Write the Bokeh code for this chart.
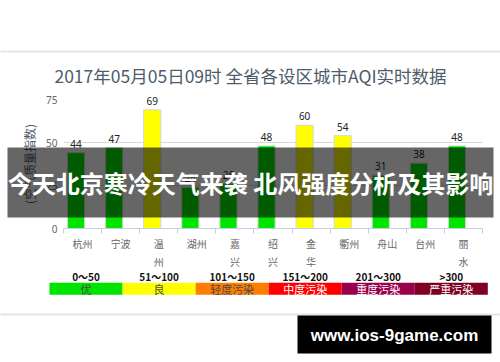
from bokeh.plotting import figure
from bokeh.models import ColumnDataSource, Range1d, FixedTicker
from bokeh.core.properties import value
from bokeh.embed import file_html
from bokeh.resources import INLINE

# ---------------- data ----------------
CITIES = ["杭州", "宁波", "温州", "湖州", "嘉兴", "绍兴", "金华", "衢州", "舟山", "台州", "丽水"]
AQI = [44, 47, 69, 24, 26, 48, 60, 54, 31, 38, 48]
TICK_LABELS = ["杭州", "宁波", "温\n州", "湖州", "嘉\n兴", "绍\n兴", "金\n华", "衢州", "舟山", "台州", "丽\n水"]
Y_TICKS = [0, 25, 50, 75]

LEVEL_RANGES = ["0～50", "51～100", "101～150", "151～200", "201～300", ">300"]
LEVEL_NAMES = ["优", "良", "轻度污染", "中度污染", "重度污染", "严重污染"]
LEVEL_UPPER = [50, 100, 150, 200, 300, 500]
LEVEL_COLORS = ["#00e400", "#ffff00", "#ff7e00", "#ff0000", "#99004c", "#7e0023"]
LEVEL_TEXT_COLORS = ["#4a4a4a", "#4a4a4a", "#4a4a4a", "#ffffff", "#ffffff", "#ffffff"]

TITLE = "2017年05月05日09时 全省各设区城市AQI实时数据"
Y_TITLE = "(空气质量指数)"
BANNER = "今天北京寒冷天气来袭 北风强度分析及其影响"
WATERMARK = "www.ios-9game.com"

# ---------------- geometry (page pixels) ----------------
W, H = 500, 362
FX0, FX1 = 63, 482      # plot frame left/right
FY0, FY1 = 99, 228      # plot frame top/bottom
LX0, LX1 = 49, 487.3    # legend strip left/right
CJK = "Noto Sans CJK SC"

n = len(CITIES)
m = len(LEVEL_NAMES)
seg = (LX1 - LX0) / m

bar_colors = [next(c for u, c in zip(LEVEL_UPPER, LEVEL_COLORS) if v <= u) for v in AQI]
src = ColumnDataSource(dict(
    x=[i + 0.5 - 0.17 for i in range(n)],
    aqi=AQI,
    color=bar_colors,
    lbl=[str(v) for v in AQI],
))

p = figure(width=W, height=H, output_backend="svg", toolbar_location=None,
           x_range=Range1d(0, n), y_range=Range1d(Y_TICKS[0], Y_TICKS[-1]),
           min_border_left=FX0, min_border_right=W - FX1,
           min_border_top=FY0, min_border_bottom=H - FY1)
p.outline_line_color = None
p.extra_x_ranges = {"px": Range1d(FX0, FX1),
                    "leg": Range1d((FX0 - LX0) / seg, (FX1 - LX0) / seg)}
p.extra_y_ranges = {"py": Range1d(FY1, FY0)}

p.vbar(x="x", top="aqi", bottom=0, width=0.45, fill_color="color",
       line_color="#d6d6d6", line_width=1, source=src)

# value labels (overlay level so the top one is not clipped by the frame)
p.text(x="x", y="aqi", text="lbl", source=src, y_offset=-5,
       text_align="center", text_baseline="bottom",
       text_font=value("Noto Sans"), text_font_size="10px",
       text_color="#222222", level="overlay")

# axes
p.xgrid.visible = False
p.ygrid.grid_line_color = "#d8d8d8"
p.ygrid.ticker = FixedTicker(ticks=Y_TICKS)

xa = p.xaxis[0]
xa.ticker = FixedTicker(ticks=[i + 0.5 for i in range(n)], minor_ticks=list(range(n + 1)))
xa.major_label_overrides = {i + 0.5: TICK_LABELS[i] for i in range(n)}
xa.major_tick_out = 0
xa.major_tick_in = 0
xa.minor_tick_out = 5
xa.minor_tick_in = 0
xa.minor_tick_line_color = "#c0d0e0"
xa.axis_line_color = "#c0d0e0"
xa.major_label_standoff = 2
xa.major_label_text_font = CJK
xa.major_label_text_font_size = "10px"
xa.major_label_text_color = "#666666"

ya = p.yaxis[0]
ya.ticker = FixedTicker(ticks=Y_TICKS)
ya.axis_line_color = None
ya.major_tick_line_color = None
ya.minor_tick_line_color = None
ya.major_tick_out = 0
ya.major_tick_in = 0
ya.major_label_standoff = 6
ya.major_label_text_font = "Noto Sans"
ya.major_label_text_font_size = "10px"
ya.major_label_text_color = "#666666"
ya.axis_label = Y_TITLE
ya.axis_label_text_font = CJK
ya.axis_label_text_font_style = "normal"
ya.axis_label_text_font_size = "12px"
ya.axis_label_text_color = "#4d5b6b"
ya.axis_label_standoff = 5

# title and top rule (overlay-level glyphs are not clipped to the frame)
p.quad(left=[0], right=[W], top=[50], bottom=[52], x_range_name="px", y_range_name="py",
       fill_color="#e4e8e8", line_color=None, level="overlay")
p.text(x=[250], y=[75], text=[TITLE], x_range_name="px", y_range_name="py",
       text_align="center", text_baseline="middle", text_font=value(CJK),
       text_font_size="17.5px", text_color="#4d5b6b", level="overlay")

# banner overlay
p.quad(left=[7], right=[493], top=[147], bottom=[217], x_range_name="px", y_range_name="py",
       fill_color="black", fill_alpha=0.6, line_color=None, level="overlay")
p.text(x=[250], y=[182], text=[BANNER], x_range_name="px", y_range_name="py",
       text_align="center", text_baseline="middle", text_font=value(CJK),
       text_font_style="bold", text_font_size="24px", text_color="white", level="overlay")

# ---------------- legend strip ----------------
lsrc = ColumnDataSource(dict(x=[i + 0.5 for i in range(m)], color=LEVEL_COLORS,
                             name=LEVEL_NAMES, rng=LEVEL_RANGES, tc=LEVEL_TEXT_COLORS))
p.rect(x="x", y=288.3, width=1, height=12, fill_color="color", line_color=None, source=lsrc,
       x_range_name="leg", y_range_name="py", level="overlay")
p.text(x="x", y=275.5, text="rng", source=lsrc, text_align="center", text_baseline="middle",
       text_font=value(CJK), text_font_style="bold", text_font_size="10px", text_color="#111111",
       x_range_name="leg", y_range_name="py", level="overlay")
p.text(x="x", y=288.5, text="name", source=lsrc, text_align="center", text_baseline="middle",
       text_font=value(CJK), text_font_size="11px", text_color="tc",
       x_range_name="leg", y_range_name="py", level="overlay")

# ---------------- bottom rule + watermark ----------------
p.quad(left=[0], right=[W], top=[313], bottom=[315], x_range_name="px", y_range_name="py",
       fill_color="#e2e6e6", line_color=None, level="overlay")
p.quad(left=[297], right=[491], top=[315], bottom=[353], x_range_name="px", y_range_name="py",
       fill_color="black", line_color=None, level="overlay")
p.text(x=[394], y=[335], text=[WATERMARK], x_range_name="px", y_range_name="py",
       text_align="center", text_baseline="middle", text_font=value("Liberation Sans"),
       text_font_style="bold", text_font_size="17px", text_color="white", level="overlay")

open("out.html", "w").write(file_html(p, INLINE))
